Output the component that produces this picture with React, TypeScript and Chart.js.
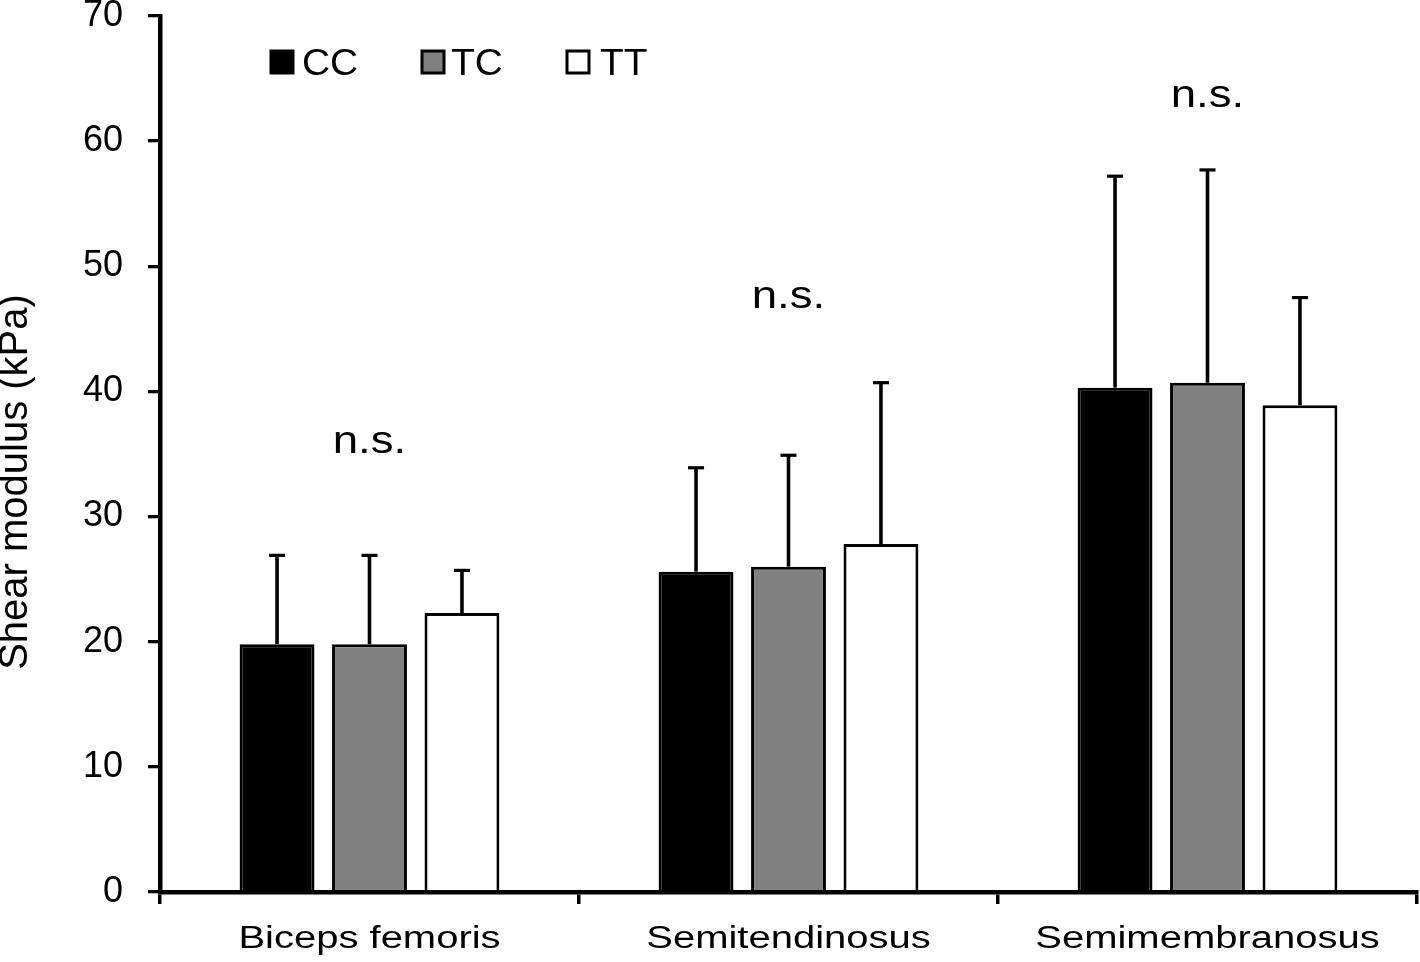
import { useEffect, useRef } from "react";
import { Chart, registerables } from "chart.js";

Chart.register(...registerables);

const categories = ["Biceps femoris", "Semitendinosus", "Semimembranosus"];
const seriesNames = ["CC", "TC", "TT"];
const ccMean = [19.8, 25.6, 40.3];
const ccUpper = [26.9, 33.9, 57.2];
const tcMean = [19.8, 26.0, 40.7];
const tcUpper = [26.9, 34.9, 57.7];
const ttMean = [22.3, 27.8, 38.9];
const ttUpper = [25.7, 40.7, 47.5];
const seriesColors = ["#000000", "#808080", "#ffffff"];
const nsLabels = ["n.s.", "n.s.", "n.s."];
const nsValues = [35.1, 46.7, 62.7];
const yTitle = "Shear modulus (kPa)";

const FONT = "'Liberation Sans', Arial, Helvetica, sans-serif";

export default function App() {
  const ref = useRef<HTMLCanvasElement | null>(null);

  useEffect(() => {
    document.body.style.margin = "0";
    const canvas = ref.current;
    if (!canvas) return;
    const uppers = [ccUpper, tcUpper, ttUpper];

    const overlay = {
      id: "overlay",
      afterDatasetsDraw(chart: any) {
        const ctx = chart.ctx;
        const y = chart.scales.y;
        const x = chart.scales.x;
        ctx.save();
        ctx.strokeStyle = "#000";
        chart.data.datasets.forEach((_: any, di: number) => {
          const meta = chart.getDatasetMeta(di);
          meta.data.forEach((bar: any, i: number) => {
            const top = y.getPixelForValue(uppers[di][i]);
            ctx.lineWidth = 3.6;
            ctx.beginPath();
            ctx.moveTo(bar.x, bar.y);
            ctx.lineTo(bar.x, top);
            ctx.stroke();
            ctx.lineWidth = 3.2;
            ctx.beginPath();
            ctx.moveTo(bar.x - 8, top);
            ctx.lineTo(bar.x + 8, top);
            ctx.stroke();
          });
        });
        ctx.fillStyle = "#000";
        // n.s. labels
        ctx.font = `38px ${FONT}`;
        ctx.textAlign = "center";
        ctx.textBaseline = "alphabetic";
        categories.forEach((_, i) => {
          ctx.save();
          ctx.translate(x.getPixelForValue(i), y.getPixelForValue(nsValues[i]));
          ctx.scale(1.2, 1);
          ctx.fillText(nsLabels[i], 0, 0);
          ctx.restore();
        });
        // category labels (horizontally widened like the reference)
        ctx.font = `31px ${FONT}`;
        categories.forEach((c, i) => {
          ctx.save();
          ctx.translate(x.getPixelForValue(i), 948);
          ctx.scale(1.29, 1);
          ctx.fillText(c, 0, 0);
          ctx.restore();
        });
        // legend
        ctx.font = `36px ${FONT}`;
        ctx.textAlign = "left";
        const boxX = [271, 422, 567];
        const textX = [302, 451, 600];
        seriesNames.forEach((name, i) => {
          ctx.fillStyle = seriesColors[i];
          ctx.fillRect(boxX[i], 51, 22, 22);
          ctx.lineWidth = 3;
          ctx.strokeStyle = "#000";
          ctx.strokeRect(boxX[i], 51, 22, 22);
          ctx.fillStyle = "#000";
          ctx.save();
          ctx.translate(textX[i], 75);
          ctx.scale(1.08, 1);
          ctx.fillText(name, 0, 0);
          ctx.restore();
        });
        // y title
        ctx.save();
        ctx.translate(16, 482);
        ctx.rotate(-Math.PI / 2);
        ctx.font = `40px ${FONT}`;
        ctx.textAlign = "center";
        ctx.textBaseline = "middle";
        ctx.fillText(yTitle, 0, 0);
        ctx.restore();
        ctx.restore();
      },
    };

    const chart = new Chart(canvas, {
      type: "bar",
      data: {
        labels: categories,
        datasets: [ccMean, tcMean, ttMean].map((d, i) => ({
          label: seriesNames[i],
          data: d,
          backgroundColor: seriesColors[i],
          borderColor: "#000",
          borderWidth: 3,
          borderSkipped: "bottom" as const,
          categoryPercentage: 0.662,
          barPercentage: 0.81,
        })),
      },
      options: {
        animation: false,
        responsive: false,
        devicePixelRatio: 1,
        layout: { padding: { top: 16, right: 3, left: 0, bottom: 0 } },
        plugins: {
          legend: { display: false },
          tooltip: { enabled: false },
          title: { display: false },
        },
        scales: {
          x: {
            grid: {
              offset: true,
              drawOnChartArea: false,
              drawTicks: true,
              tickLength: 12,
              color: "#000",
              lineWidth: 3.5,
            },
            border: { display: true, color: "#000", width: 4.5 },
            ticks: {
              display: false,
            },
            afterFit(scale: any) {
              scale.height = 70;
              scale.paddingLeft = 0;
              scale.paddingRight = 0;
              scale.paddingTop = 0;
              scale.paddingBottom = 0;
            },
          },
          y: {
            min: 0,
            max: 70,
            grid: {
              drawOnChartArea: false,
              drawTicks: true,
              tickLength: 12,
              color: "#000",
              lineWidth: 3.3,
            },
            border: { display: true, color: "#000", width: 4.5 },
            ticks: {
              stepSize: 10,
              color: "#000",
              font: { size: 36, family: FONT },
              padding: 25,
            },
            afterFit(scale: any) {
              scale.width = 160;
              scale.paddingTop = 0;
              scale.paddingBottom = 0;
              scale.paddingLeft = 0;
              scale.paddingRight = 0;
            },
          },
        },
      },
      plugins: [overlay],
    });
    return () => chart.destroy();
  }, []);

  return <canvas ref={ref} width={1420} height={962} style={{ display: "block" }} />;
}
